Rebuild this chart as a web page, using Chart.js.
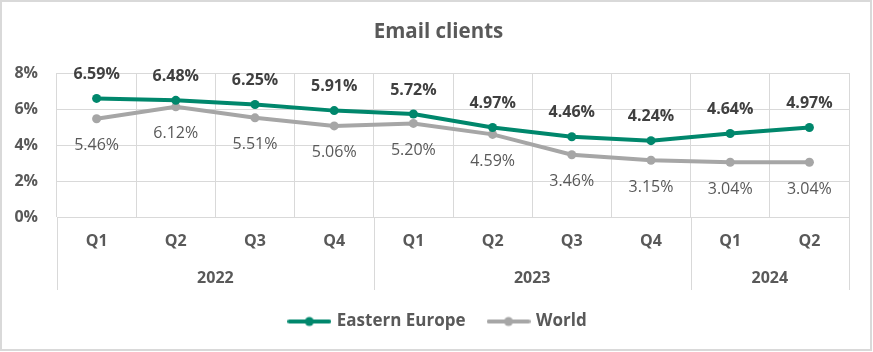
<!DOCTYPE html>
<html>
<head>
<meta charset="utf-8">
<script src="https://cdn.jsdelivr.net/npm/chart.js@4.4.1/dist/chart.umd.min.js"></script>
<style>
  html, body { margin: 0; padding: 0; background: #fff; }
  #wrap { position: relative; width: 873px; height: 352px; }
  canvas { display: block; }
</style>
</head>
<body>
<div id="wrap"><canvas id="c" width="873" height="352"></canvas></div>
<script>
const quarters = ['Q1','Q2','Q3','Q4','Q1','Q2','Q3','Q4','Q1','Q2'];
const years = ['2022','2023','2024'];
const yearSpans = [4, 4, 2];
const easternEurope = [6.59, 6.48, 6.25, 5.91, 5.72, 4.97, 4.46, 4.24, 4.64, 4.97];
const world = [5.46, 6.12, 5.51, 5.06, 5.20, 4.59, 3.46, 3.15, 3.04, 3.04];
const yTicks = [0, 2, 4, 6, 8];

const GREEN = '#00876C';
const GRAY = '#A6A6A6';
const TEXT = '#595959';
const GRID = '#D9D9D9';
const FONT = '"Open Sans", sans-serif';

function legendIcon(color) {
  const c = document.createElement('canvas');
  c.width = 44; c.height = 12;
  const g = c.getContext('2d');
  g.strokeStyle = color; g.lineWidth = 4; g.lineCap = 'round';
  g.beginPath(); g.moveTo(2, 6); g.lineTo(42, 6); g.stroke();
  g.fillStyle = color;
  g.beginPath(); g.arc(22, 6, 4.5, 0, Math.PI * 2); g.fill();
  return c;
}

const frame = {
  id: 'frame',
  afterLayout(chart) {
    const shift = 14;
    if (chart.legend) { chart.legend.left += shift; chart.legend.right += shift; }
    if (chart.titleBlock) { chart.titleBlock.left += shift; chart.titleBlock.right += shift; }
  },
  beforeDraw(chart) {
    const ctx = chart.ctx;
    ctx.save();
    ctx.fillStyle = '#fff';
    ctx.fillRect(0, 0, chart.width, chart.height);
    ctx.strokeStyle = GRID;
    ctx.lineWidth = 2;
    ctx.strokeRect(1, 1, 870, 349);
    ctx.restore();
  }
};

const groups = {
  id: 'groups',
  afterDraw(chart) {
    const x = chart.scales.x;
    const area = chart.chartArea;
    const ctx = chart.ctx;
    const half = (x.getPixelForValue(1) - x.getPixelForValue(0)) / 2;
    ctx.save();
    ctx.strokeStyle = GRID;
    ctx.lineWidth = 1;
    let idx = 0;
    const bounds = [x.getPixelForValue(0) - half];
    yearSpans.forEach(s => { idx += s; bounds.push(x.getPixelForValue(idx - 1) + half); });
    bounds.forEach(b => {
      const bx = Math.round(b) + 0.5;
      ctx.beginPath(); ctx.moveTo(bx, area.bottom); ctx.lineTo(bx, 290); ctx.stroke();
    });
    ctx.fillStyle = TEXT;
    ctx.font = 'bold 16px ' + FONT;
    ctx.textAlign = 'center';
    ctx.textBaseline = 'middle';
    years.forEach((y, i) => {
      ctx.fillText(y, (bounds[i] + bounds[i + 1]) / 2, 278);
    });
    ctx.restore();
  }
};

const labels = {
  id: 'labels',
  afterDatasetsDraw(chart) {
    const ctx = chart.ctx;
    ctx.save();
    ctx.textAlign = 'center';
    ctx.textBaseline = 'middle';
    chart.data.datasets.forEach((ds, di) => {
      const meta = chart.getDatasetMeta(di);
      meta.data.forEach((pt, i) => {
        const txt = ds.data[i].toFixed(2) + '%';
        if (di === 0) {
          ctx.font = 'bold 16px ' + FONT;
          ctx.fillStyle = '#404040';
          ctx.fillText(txt, pt.x, pt.y - 24);
        } else {
          ctx.font = '16px ' + FONT;
          ctx.fillStyle = TEXT;
          ctx.fillText(txt, pt.x, pt.y + 27);
        }
      });
    });
    ctx.restore();
  }
};

new Chart(document.getElementById('c'), {
  type: 'line',
  data: {
    labels: quarters,
    datasets: [
      { label: 'Eastern Europe', data: easternEurope, borderColor: GREEN, backgroundColor: GREEN,
        borderWidth: 4, pointRadius: 4.5, pointBackgroundColor: GREEN, pointBorderWidth: 0,
        pointStyle: 'circle', tension: 0 },
      { label: 'World', data: world, borderColor: GRAY, backgroundColor: GRAY,
        borderWidth: 4, pointRadius: 4.5, pointBackgroundColor: GRAY, pointBorderWidth: 0,
        pointStyle: 'circle', tension: 0 }
    ]
  },
  options: {
    responsive: false,
    animation: false,
    devicePixelRatio: 1,
    layout: { padding: { left: 0, right: 24, top: 0, bottom: 12 } },
    plugins: {
      title: {
        display: true, text: 'Email clients', color: TEXT,
        font: { family: FONT, size: 20.5, weight: 'bold', lineHeight: 1.2 },
        padding: { top: 20, bottom: 28.4 }
      },
      legend: {
        display: true, position: 'bottom',
        labels: {
          color: TEXT, font: { family: FONT, size: 17, weight: 'bold' },
          usePointStyle: true, pointStyleWidth: 38, padding: 24,
          generateLabels(chart) {
            return chart.data.datasets.map((ds, i) => ({
              text: ds.label, fillStyle: ds.borderColor, strokeStyle: ds.borderColor,
              lineWidth: 0, pointStyle: legendIcon(ds.borderColor), datasetIndex: i, hidden: false,
              fontColor: TEXT
            }));
          }
        }
      },
      tooltip: { enabled: false }
    },
    scales: {
      x: {
        offset: true,
        grid: { offset: true, color: GRID, drawTicks: false, lineWidth: 1 },
        border: { display: true, color: GRID },
        ticks: { color: TEXT, font: { family: FONT, size: 16, weight: 'bold' }, padding: 15, maxRotation: 0 },
        afterFit(s) { s.height = 72; }
      },
      y: {
        min: 0, max: 8,
        afterBuildTicks(s) { s.ticks = yTicks.map(v => ({ value: v })); },
        grid: { color: GRID, drawTicks: false },
        border: { display: false },
        ticks: { color: TEXT, font: { family: FONT, size: 16, weight: 'bold' }, padding: 19,
          callback: v => v + '%' },
        afterFit(s) { s.width = 57; }
      }
    }
  },
  plugins: [frame, labels, groups]
});
</script>
</body>
</html>
